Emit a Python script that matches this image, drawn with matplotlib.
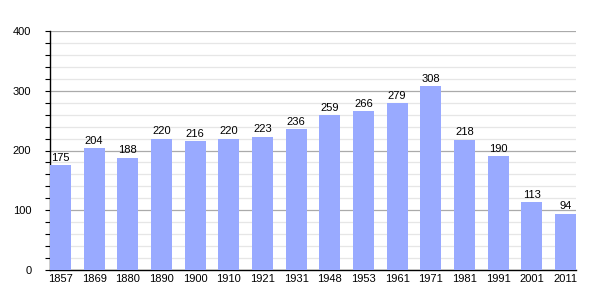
import matplotlib
matplotlib.use("Agg")
import matplotlib.pyplot as plt
from matplotlib.ticker import MultipleLocator

years = ["1857", "1869", "1880", "1890", "1900", "1910", "1921", "1931",
         "1948", "1953", "1961", "1971", "1981", "1991", "2001", "2011"]
population = [175, 204, 188, 220, 216, 220, 223, 236, 259, 266, 279, 308, 218, 190, 113, 94]

plt.rcParams['font.family'] = ['Liberation Sans', 'DejaVu Sans']

fig = plt.figure(figsize=(6.05, 3.0), dpi=100)
ax = fig.add_axes([50/605, 30/300, 526/605, 239/300])

x = list(range(len(years)))
ax.bar(x, population, width=0.62, color="#99aaff", zorder=3)
for xi, v in zip(x, population):
    ax.text(xi, v + 4, str(v), ha="center", va="bottom", fontsize=8, color="black", zorder=4)

ax.set_xlim(-0.31, len(years) - 1 + 0.31)
ax.set_ylim(0, 400)
ax.set_xticks(x)
ax.set_xticklabels(years, fontsize=8)
ax.yaxis.set_major_locator(MultipleLocator(100))
ax.yaxis.set_minor_locator(MultipleLocator(20))
ax.tick_params(axis="y", which="major", length=3.5, width=0.8, labelsize=8, pad=10)
ax.tick_params(axis="y", which="minor", length=3.5, width=0.8)
ax.tick_params(axis="x", length=0, pad=3)

ax.grid(axis="y", which="major", color="#aaaaaa", linewidth=0.9, zorder=1)
ax.grid(axis="y", which="minor", color="#e6e6e6", linewidth=0.9, zorder=0)

for s in ["top", "right"]:
    ax.spines[s].set_visible(False)
ax.spines["left"].set_linewidth(1.0)
ax.spines["bottom"].set_linewidth(1.0)

fig.savefig("out.png", dpi=100)
